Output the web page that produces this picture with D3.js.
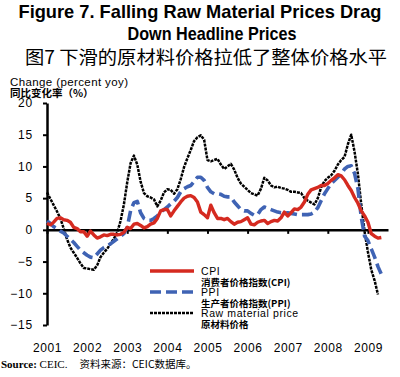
<!DOCTYPE html>
<html>
<head>
<meta charset="utf-8">
<script src="https://cdn.jsdelivr.net/npm/d3@7"></script>
<style>
  body { margin: 0; background: #fff; }
  svg { display: block; }
</style>
</head>
<body>
<div id="chart"></div>
<script>
// monthly yoy % change, Jan 2001 .. May 2009
const startYear = 2001;
const cpi = [
  1.0, 0.8, 1.2, 1.8, 1.9, 1.6, 1.5, 1.2, 0.4, 0.2, -0.3, -0.3,
  -1.0, -0.2, -0.8, -1.3, -1.1, -0.8, -0.9, -0.7, -0.7, -0.8, -0.7, -0.4,
  0.4, 0.2, 0.9, 1.0, 0.7, 0.3, 0.5, 0.9, 1.1, 1.8, 3.0, 3.2,
  3.2, 2.2, 3.0, 3.7, 4.4, 5.0, 5.3, 5.4, 5.1, 4.4, 2.8, 2.4,
  1.9, 3.9, 2.7, 1.8, 1.8, 1.6, 1.8, 1.3, 0.9, 1.2, 1.3, 1.6,
  1.9, 0.9, 0.8, 1.2, 1.4, 1.5, 1.0, 1.3, 1.5, 1.4, 1.9, 2.8,
  2.2, 2.7, 3.3, 3.2, 3.6, 4.4, 5.6, 6.3, 6.5, 6.7, 7.0, 7.0,
  7.3, 7.8, 8.2, 8.7, 8.5, 7.9, 7.0, 6.2, 5.1, 4.2, 3.0, 2.2,
  1.2, -0.6, -1.0, -1.3, -1.2
];
const ppi = [
  1.4, 1.0, 0.5, 0.2, -0.2, -0.5, -1.0, -1.5, -2.0, -2.6, -3.2, -3.6,
  -4.0, -4.3, -4.4, -3.8, -3.2, -2.8, -2.5, -2.2, -1.8, -1.4, -1.0, -0.6,
  0.4, 3.0, 4.3, 4.5, 2.7, 1.8, 1.5, 1.5, 1.8, 2.2, 2.8, 3.2,
  3.6, 4.1, 4.5, 5.1, 6.0, 6.5, 6.8, 7.0, 7.6, 8.3, 8.3, 7.8,
  6.7, 6.0, 5.7, 5.7, 5.6, 5.3, 5.2, 5.2, 4.4, 3.8, 3.2, 3.0,
  3.0, 2.6, 2.3, 2.4, 3.2, 3.6, 3.4, 3.2, 3.0, 2.8, 2.7, 2.7,
  2.7, 2.6, 2.5, 2.4, 2.4, 2.4, 2.4, 2.5, 2.8, 3.5, 4.6, 5.7,
  6.5, 7.3, 7.8, 8.3, 8.8, 9.6, 10.0, 10.1, 8.9, 6.5, 2.0, -1.0,
  -1.7, -3.0, -4.3, -5.8, -7.0
];
const rawMaterial = [
  5.9, 4.9, 3.9, 2.9, 1.8, 0.2, -1.5, -2.8, -3.6, -4.4, -5.3, -6.0,
  -6.1, -6.2, -6.3, -5.6, -4.3, -3.6, -3.0, -2.2, -1.4, -0.4, 1.4, 4.0,
  7.5, 10.5, 11.7, 10.3, 7.6, 5.8, 5.3, 5.1, 4.8, 3.7, 4.6, 5.9,
  6.4, 6.3, 5.7, 6.4, 8.0, 9.9, 11.3, 12.6, 14.0, 14.6, 14.9, 14.2,
  11.0, 10.8, 11.0, 11.2, 10.3, 9.6, 10.0, 10.4, 9.5, 8.2, 7.3, 6.8,
  6.3, 5.8, 5.6, 5.4, 6.5, 8.2, 7.8, 7.0, 6.7, 6.8, 6.6, 6.5,
  6.3, 6.0, 6.0, 5.9, 5.8, 5.0, 4.6, 4.3, 4.0, 5.0, 6.7, 7.7,
  8.2, 8.6, 9.3, 10.3, 11.0, 11.5, 13.5, 15.0, 12.3, 8.8, 4.0, -0.3,
  -3.5, -6.3, -8.0, -10.2
];
const yearTicks = [2001, 2002, 2003, 2004, 2005, 2006, 2007, 2008, 2009];
const yTicks = [-15, -10, -5, 0, 5, 10, 15, 20];

const width = 400, height = 377;
const margin = {top: 103, right: 12, bottom: 52, left: 47};

const x = d3.scaleLinear()
    .domain([2001, 2009.5])
    .range([margin.left, width - margin.right]);

const y = d3.scaleLinear()
    .domain([-15, 20])
    .range([height - margin.bottom, margin.top]);

const svg = d3.select("#chart").append("svg")
    .attr("width", width)
    .attr("height", height)
    .attr("viewBox", [0, 0, width, height]);

// titles
svg.append("text")
    .attr("x", 200).attr("y", 18)
    .attr("text-anchor", "middle")
    .attr("font-family", "Liberation Sans, Arial, sans-serif")
    .attr("font-weight", "bold")
    .attr("font-size", 19)
    .attr("textLength", 363)
    .attr("lengthAdjust", "spacingAndGlyphs")
    .text("Figure 7. Falling Raw Material Prices Drag");

svg.append("text")
    .attr("x", 212).attr("y", 40)
    .attr("text-anchor", "middle")
    .attr("font-family", "Liberation Sans, Arial, sans-serif")
    .attr("font-weight", "bold")
    .attr("font-size", 19)
    .attr("textLength", 169)
    .attr("lengthAdjust", "spacingAndGlyphs")
    .text("Down Headline Prices");

svg.append("text")
    .attr("x", 25).attr("y", 64)
    .attr("font-family", "Noto Sans CJK SC, sans-serif")
    .attr("font-size", 18)
    .attr("textLength", 362)
    .attr("lengthAdjust", "spacingAndGlyphs")
    .text("图7  下滑的原材料价格拉低了整体价格水平");

// y label
svg.append("text")
    .attr("x", 10).attr("y", 86)
    .attr("font-family", "Liberation Sans, Arial, sans-serif")
    .attr("font-size", 11.5)
    .attr("textLength", 118)
    .attr("lengthAdjust", "spacing")
    .text("Change (percent yoy)");

svg.append("text")
    .attr("x", 10).attr("y", 97)
    .attr("font-family", "Noto Sans CJK SC, sans-serif")
    .attr("font-weight", "bold")
    .attr("font-size", 10.5)
    .text("同比变化率（%）");

// axes
const yAxis = g => g
    .attr("transform", `translate(${margin.left},0)`)
    .call(d3.axisLeft(y).tickValues(yTicks).tickSize(4).tickSizeOuter(0).tickPadding(10))
    .call(g => g.select(".domain").attr("stroke-width", 2.5))
    .call(g => g.selectAll(".tick line").attr("stroke-width", 2))
    .call(g => g.selectAll("text")
        .attr("font-family", "Liberation Sans, Arial, sans-serif")
        .attr("font-size", 12)
        .attr("letter-spacing", 0.8)
        .attr("fill", "#000"));

const xAxis = g => g
    .attr("transform", `translate(0,${y(0)})`)
    .call(d3.axisBottom(x).tickValues(yearTicks).tickFormat(d3.format("d"))
        .tickSize(4).tickSizeOuter(0).tickPadding(110))
    .call(g => g.select(".domain").attr("stroke-width", 2.5))
    .call(g => g.selectAll(".tick line").attr("stroke-width", 2))
    .call(g => g.selectAll("text")
        .attr("font-family", "Liberation Sans, Arial, sans-serif")
        .attr("font-size", 12)
        .attr("letter-spacing", 0.6)
        .attr("fill", "#000"));

svg.append("g").attr("class", "x-axis").call(xAxis);
svg.append("g").attr("class", "y-axis").call(yAxis);

// series
const line = d3.line()
    .x((d, i) => x(startYear + i / 12))
    .y(d => y(d));

const series = [
  {name: "raw", values: rawMaterial, color: "#000", width: 2.5, dash: "3,1"},
  {name: "ppi", values: ppi, color: "#3f63b4", width: 3.6, dash: "11,5"},
  {name: "cpi", values: cpi, color: "#d52a20", width: 3.4, dash: null}
];

svg.append("g")
    .attr("class", "lines")
  .selectAll("path")
  .data(series)
  .join("path")
    .attr("fill", "none")
    .attr("stroke", d => d.color)
    .attr("stroke-width", d => d.width)
    .attr("stroke-dasharray", d => d.dash)
    .attr("stroke-linejoin", "round")
    .attr("d", d => line(d.values));

// legend
const legend = [
  {color: "#d52a20", width: 3.4, dash: null, ly: 271, en: "CPI", cn: "消费者价格指数(CPI)"},
  {color: "#3f63b4", width: 3.6, dash: "11,5", ly: 292, en: "PPI", cn: "生产者价格指数(PPI)"},
  {color: "#000", width: 2.6, dash: "3,1", ly: 313, en: "Raw material price", cn: "原材料价格"}
];

const lg = svg.append("g").attr("class", "legend");
legend.forEach(d => {
  lg.append("line")
      .attr("x1", 150).attr("x2", 194)
      .attr("y1", d.ly).attr("y2", d.ly)
      .attr("stroke", d.color)
      .attr("stroke-width", d.width)
      .attr("stroke-dasharray", d.dash);
  lg.append("text")
      .attr("x", 201).attr("y", d.ly + 3.5)
      .attr("font-family", "Liberation Sans, Arial, sans-serif")
      .attr("font-size", 10.5)
      .attr("letter-spacing", 0.6)
      .text(d.en);
  lg.append("text")
      .attr("x", 201).attr("y", d.ly + 14.5)
      .attr("font-family", "Noto Sans CJK SC, sans-serif")
      .attr("font-weight", "bold")
      .attr("font-size", 9.5)
      .text(d.cn);
});

// source
const src = svg.append("text")
    .attr("x", 1).attr("y", 368)
    .attr("font-family", "Liberation Serif, Times New Roman, serif")
    .attr("font-size", 11);
src.append("tspan").attr("font-weight", "bold").text("Source: ");
src.append("tspan").text("CEIC.");
src.append("tspan").attr("dx", 12)
    .attr("font-family", "Noto Sans CJK SC, serif")
    .attr("font-size", 10.5)
    .text("资料来源：CEIC数据库。");
</script>
</body>
</html>
